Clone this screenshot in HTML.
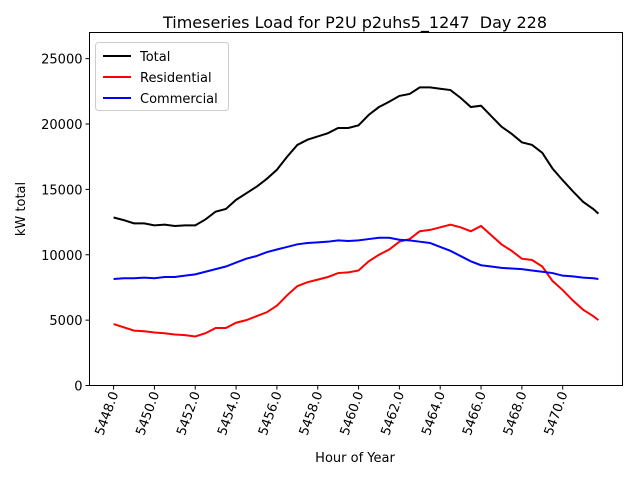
<!DOCTYPE html>
<html><head><meta charset="utf-8"><style>
body{margin:0;background:#fff}
svg{font-family:"DejaVu Sans","Liberation Sans",sans-serif}
</style></head><body>
<svg id="chart" width="640" height="480">
<rect width="640" height="480" fill="#fff"/>
<text x="355" y="28" font-size="16" text-anchor="middle">Timeseries Load for P2U p2uhs5_1247&#160; Day 228</text>
<g id="grid"></g>
<g id="series"></g>
<rect x="89.5" y="32.5" width="533" height="353" fill="none" stroke="#000" stroke-width="1"/>
<text x="355" y="462" font-size="13" text-anchor="middle">Hour of Year</text>
<text transform="translate(25,209) rotate(-90)" font-size="13" text-anchor="middle">kW total</text>
<g>
<rect x="95.5" y="42.5" width="133" height="68" rx="3" fill="#fff" fill-opacity="0.8" stroke="#ccc"/>
<line x1="103" y1="56" x2="131" y2="56" stroke="#000" stroke-width="2"/>
<text x="140" y="61" font-size="13">Total</text>
<line x1="103" y1="77" x2="131" y2="77" stroke="red" stroke-width="2"/>
<text x="140" y="82" font-size="13">Residential</text>
<line x1="103" y1="98" x2="131" y2="98" stroke="blue" stroke-width="2"/>
<text x="140" y="103" font-size="13">Commercial</text>
</g>
</svg>
<script>
const hours=[5448,5448.5,5449,5449.5,5450,5450.5,5451,5451.5,5452,5452.5,5453,5453.5,5454,5454.5,5455,5455.5,5456,5456.5,5457,5457.5,5458,5458.5,5459,5459.5,5460,5460.5,5461,5461.5,5462,5462.5,5463,5463.5,5464,5464.5,5465,5465.5,5466,5466.5,5467,5467.5,5468,5468.5,5469,5469.5,5470,5470.5,5471,5471.5,5471.75];
const total=[12850,12650,12400,12400,12250,12300,12200,12250,12250,12700,13300,13500,14200,14700,15200,15800,16500,17500,18400,18800,19050,19300,19700,19700,19900,20700,21300,21700,22150,22300,22800,22800,22700,22600,22000,21300,21400,20600,19800,19250,18600,18400,17800,16600,15700,14850,14050,13500,13150];
const residential=[4700,4450,4200,4150,4050,4000,3900,3850,3750,4000,4400,4400,4800,5000,5300,5600,6100,6900,7600,7900,8100,8300,8600,8650,8800,9500,10000,10400,11000,11200,11800,11900,12100,12300,12100,11800,12200,11500,10800,10300,9700,9600,9100,8000,7300,6500,5800,5300,5000];
const commercial=[8150,8200,8200,8250,8200,8300,8300,8400,8500,8700,8900,9100,9400,9700,9900,10200,10400,10600,10800,10900,10950,11000,11100,11050,11100,11200,11300,11300,11150,11100,11000,10900,10600,10300,9900,9500,9200,9100,9000,8950,8900,8800,8700,8600,8400,8350,8250,8200,8150];
const yTicks=[0,5000,10000,15000,20000,25000];
const xTicks=[5448,5450,5452,5454,5456,5458,5460,5462,5464,5466,5468,5470];
const X0=89.5,X1=622.5,Y0=385.5,Y1=32.5,xmin=5446.82,xmax=5472.93,ymin=0,ymax=27000;
const sx=v=>X0+(v-xmin)/(xmax-xmin)*(X1-X0);
const sy=v=>Y0-(v-ymin)/(ymax-ymin)*(Y0-Y1);
const NS="http://www.w3.org/2000/svg";
const g=document.getElementById('grid'),s=document.getElementById('series');
yTicks.forEach(t=>{
 const l=document.createElementNS(NS,'line');
 l.setAttribute('x1',X0-4);l.setAttribute('x2',X0);l.setAttribute('y1',sy(t));l.setAttribute('y2',sy(t));l.setAttribute('stroke','#000');
 
 
 g.appendChild(l);
 const tx=document.createElementNS(NS,'text');
 tx.setAttribute('x',X0-7);tx.setAttribute('y',sy(t)+5);tx.setAttribute('font-size','13');tx.setAttribute('text-anchor','end');
 tx.textContent=t;
 
 
 g.appendChild(tx);
});
xTicks.forEach(t=>{
 const x=sx(t);
 const l=document.createElementNS(NS,'line');
 l.setAttribute('x1',x);l.setAttribute('x2',x);l.setAttribute('y1',Y0);l.setAttribute('y2',Y0+4);l.setAttribute('stroke','#000');
 
 
 g.appendChild(l);
 const tx=document.createElementNS(NS,'text');
 tx.setAttribute('transform',`translate(${x+5},${Y0+8}) rotate(-70)`);
 tx.setAttribute('font-size','13');tx.setAttribute('text-anchor','end');
 tx.textContent=t.toFixed(1);
 
 
 g.appendChild(tx);
});
[[total,'#000','total-line'],[residential,'red','residential-line'],[commercial,'blue','commercial-line']].forEach(([d,c,n])=>{
 const p=document.createElementNS(NS,'polyline');
 p.setAttribute('points',d.map((v,i)=>sx(hours[i])+','+sy(v)).join(' '));
 p.setAttribute('fill','none');p.setAttribute('stroke',c);p.setAttribute('stroke-width','2');
 
 
 s.appendChild(p);
});
</script>
</body></html>
